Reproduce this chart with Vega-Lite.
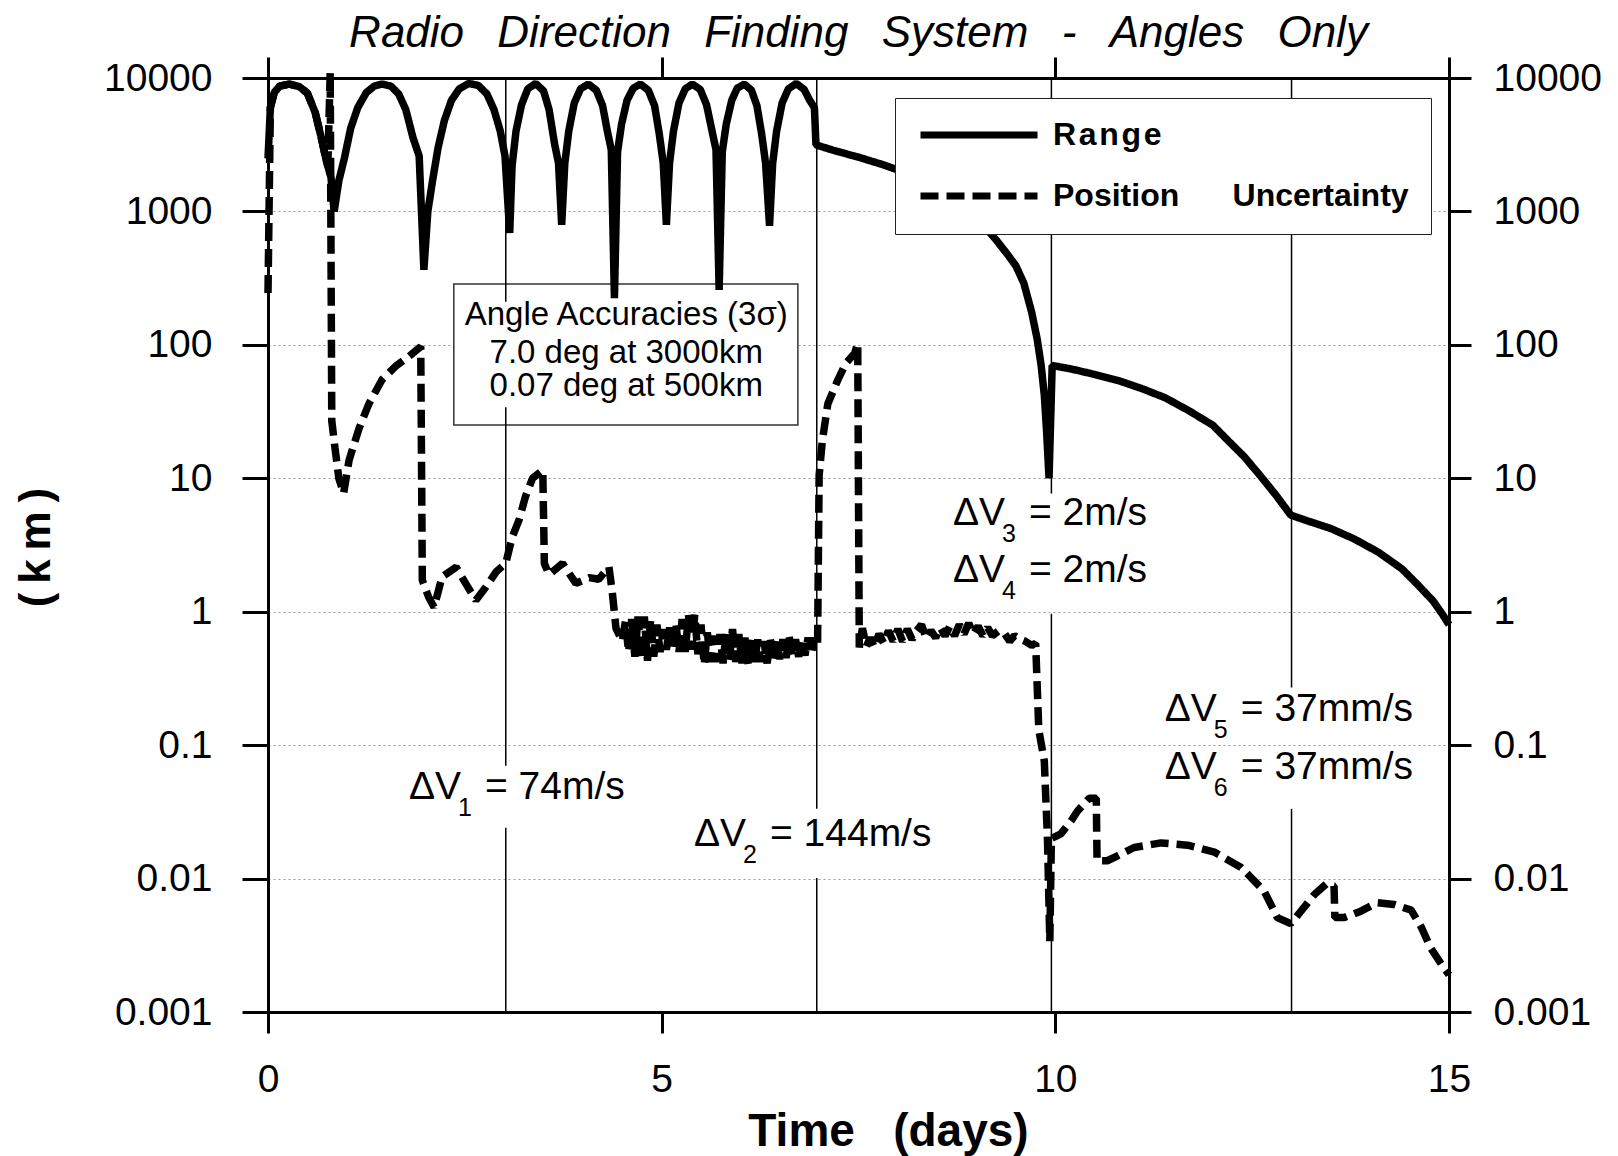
{
  "$schema": "https://vega.github.io/schema/vega-lite/v6.json",
  "autosize": {"type": "none"},
  "padding": {"left": 268, "top": 78, "right": 169, "bottom": 144},
  "width": 1181,
  "height": 934,
  "background": "white",
  "config": {
    "font": "Liberation Sans",
    "view": {"stroke": null}
  },
  "title": {
    "text": "Radio\u00a0\u00a0\u2009Direction\u00a0\u00a0\u2009Finding\u00a0\u00a0\u2009System\u00a0\u00a0\u2009-\u00a0\u00a0\u2009Angles\u00a0\u00a0\u2009Only",
    "font": "Liberation Sans",
    "fontSize": 44,
    "fontStyle": "italic",
    "fontWeight": "normal",
    "color": "black",
    "anchor": "middle",
    "frame": "group",
    "baseline": "alphabetic",
    "offset": 10,
    "dy": 45
  },
  "datasets": {
    "box": [{"t1": 2.36, "t2": 6.73, "v1": 25.1, "v2": 286}],
    "rules": [
      {"t": 3.02, "v1": 0.001, "v2": 0.024},
      {"t": 3.02, "v1": 0.07, "v2": 34},
      {"t": 3.02, "v1": 210, "v2": 10000},
      {"t": 6.97, "v1": 0.001, "v2": 0.0101},
      {"t": 6.97, "v1": 0.0333, "v2": 10000},
      {"t": 9.95, "v1": 0.001, "v2": 0.966},
      {"t": 9.95, "v1": 7.7, "v2": 10000},
      {"t": 13.0, "v1": 0.001, "v2": 0.0333},
      {"t": 13.0, "v1": 0.27, "v2": 10000}
    ],
    "curves": [
      {"series": "Range", "t": 0.00, "v": 2500},
      {"series": "Range", "t": 0.03, "v": 6000},
      {"series": "Range", "t": 0.08, "v": 7800},
      {"series": "Range", "t": 0.15, "v": 8700},
      {"series": "Range", "t": 0.27, "v": 9000},
      {"series": "Range", "t": 0.40, "v": 8600},
      {"series": "Range", "t": 0.50, "v": 7700},
      {"series": "Range", "t": 0.60, "v": 5500},
      {"series": "Range", "t": 0.68, "v": 3500},
      {"series": "Range", "t": 0.74, "v": 2400},
      {"series": "Range", "t": 0.80, "v": 1800},
      {"series": "Range", "t": 0.84, "v": 1000},
      {"series": "Range", "t": 0.90, "v": 1700},
      {"series": "Range", "t": 0.97, "v": 2500},
      {"series": "Range", "t": 1.05, "v": 4200},
      {"series": "Range", "t": 1.14, "v": 6000},
      {"series": "Range", "t": 1.25, "v": 7800},
      {"series": "Range", "t": 1.35, "v": 8700},
      {"series": "Range", "t": 1.45, "v": 9000},
      {"series": "Range", "t": 1.56, "v": 8700},
      {"series": "Range", "t": 1.66, "v": 7600},
      {"series": "Range", "t": 1.75, "v": 5800},
      {"series": "Range", "t": 1.84, "v": 3600},
      {"series": "Range", "t": 1.92, "v": 2600},
      {"series": "Range", "t": 1.98, "v": 365},
      {"series": "Range", "t": 2.03, "v": 1000},
      {"series": "Range", "t": 2.09, "v": 1700},
      {"series": "Range", "t": 2.16, "v": 3000},
      {"series": "Range", "t": 2.24, "v": 4800},
      {"series": "Range", "t": 2.33, "v": 6800},
      {"series": "Range", "t": 2.43, "v": 8300},
      {"series": "Range", "t": 2.55, "v": 9100},
      {"series": "Range", "t": 2.67, "v": 8800},
      {"series": "Range", "t": 2.78, "v": 7600},
      {"series": "Range", "t": 2.87, "v": 5800},
      {"series": "Range", "t": 2.95, "v": 4000},
      {"series": "Range", "t": 3.01, "v": 2600},
      {"series": "Range", "t": 3.07, "v": 690},
      {"series": "Range", "t": 3.10, "v": 2200},
      {"series": "Range", "t": 3.15, "v": 4000},
      {"series": "Range", "t": 3.22, "v": 6300},
      {"series": "Range", "t": 3.30, "v": 8300},
      {"series": "Range", "t": 3.40, "v": 9100},
      {"series": "Range", "t": 3.50, "v": 8000},
      {"series": "Range", "t": 3.57, "v": 5800},
      {"series": "Range", "t": 3.64, "v": 3200},
      {"series": "Range", "t": 3.69, "v": 2300},
      {"series": "Range", "t": 3.73, "v": 795},
      {"series": "Range", "t": 3.77, "v": 2300},
      {"series": "Range", "t": 3.82, "v": 4000},
      {"series": "Range", "t": 3.89, "v": 6500},
      {"series": "Range", "t": 3.97, "v": 8300},
      {"series": "Range", "t": 4.07, "v": 9000},
      {"series": "Range", "t": 4.17, "v": 8100},
      {"series": "Range", "t": 4.25, "v": 6200},
      {"series": "Range", "t": 4.31, "v": 4000},
      {"series": "Range", "t": 4.36, "v": 2900},
      {"series": "Range", "t": 4.40, "v": 224},
      {"series": "Range", "t": 4.44, "v": 2800},
      {"series": "Range", "t": 4.49, "v": 4500},
      {"series": "Range", "t": 4.56, "v": 6800},
      {"series": "Range", "t": 4.64, "v": 8400},
      {"series": "Range", "t": 4.73, "v": 9000},
      {"series": "Range", "t": 4.83, "v": 8100},
      {"series": "Range", "t": 4.91, "v": 6200},
      {"series": "Range", "t": 4.97, "v": 3800},
      {"series": "Range", "t": 5.02, "v": 2300},
      {"series": "Range", "t": 5.06, "v": 795},
      {"series": "Range", "t": 5.10, "v": 2300},
      {"series": "Range", "t": 5.15, "v": 4000},
      {"series": "Range", "t": 5.22, "v": 6500},
      {"series": "Range", "t": 5.30, "v": 8300},
      {"series": "Range", "t": 5.39, "v": 9000},
      {"series": "Range", "t": 5.49, "v": 8200},
      {"series": "Range", "t": 5.57, "v": 6300},
      {"series": "Range", "t": 5.64, "v": 4000},
      {"series": "Range", "t": 5.69, "v": 2900},
      {"series": "Range", "t": 5.73, "v": 258},
      {"series": "Range", "t": 5.77, "v": 2800},
      {"series": "Range", "t": 5.82, "v": 4500},
      {"series": "Range", "t": 5.89, "v": 6800},
      {"series": "Range", "t": 5.96, "v": 8400},
      {"series": "Range", "t": 6.05, "v": 9000},
      {"series": "Range", "t": 6.14, "v": 8100},
      {"series": "Range", "t": 6.21, "v": 6200},
      {"series": "Range", "t": 6.27, "v": 3800},
      {"series": "Range", "t": 6.32, "v": 2300},
      {"series": "Range", "t": 6.37, "v": 780},
      {"series": "Range", "t": 6.41, "v": 2300},
      {"series": "Range", "t": 6.46, "v": 4000},
      {"series": "Range", "t": 6.53, "v": 6500},
      {"series": "Range", "t": 6.61, "v": 8300},
      {"series": "Range", "t": 6.71, "v": 9100},
      {"series": "Range", "t": 6.81, "v": 8200},
      {"series": "Range", "t": 6.88, "v": 6800},
      {"series": "Range", "t": 6.94, "v": 6000},
      {"series": "Range", "t": 6.96, "v": 3150},
      {"series": "Range", "t": 7.20, "v": 2850},
      {"series": "Range", "t": 7.50, "v": 2550},
      {"series": "Range", "t": 7.80, "v": 2250},
      {"series": "Range", "t": 8.10, "v": 1950},
      {"series": "Range", "t": 8.40, "v": 1650},
      {"series": "Range", "t": 8.70, "v": 1300},
      {"series": "Range", "t": 8.90, "v": 1050},
      {"series": "Range", "t": 9.10, "v": 770},
      {"series": "Range", "t": 9.25, "v": 610},
      {"series": "Range", "t": 9.40, "v": 470},
      {"series": "Range", "t": 9.50, "v": 390},
      {"series": "Range", "t": 9.60, "v": 290},
      {"series": "Range", "t": 9.70, "v": 175},
      {"series": "Range", "t": 9.77, "v": 110},
      {"series": "Range", "t": 9.82, "v": 70},
      {"series": "Range", "t": 9.86, "v": 42},
      {"series": "Range", "t": 9.89, "v": 22},
      {"series": "Range", "t": 9.92, "v": 10},
      {"series": "Range", "t": 9.96, "v": 70},
      {"series": "Range", "t": 10.20, "v": 66},
      {"series": "Range", "t": 10.50, "v": 60},
      {"series": "Range", "t": 10.80, "v": 54},
      {"series": "Range", "t": 11.10, "v": 47},
      {"series": "Range", "t": 11.40, "v": 40},
      {"series": "Range", "t": 11.70, "v": 32},
      {"series": "Range", "t": 12.00, "v": 25},
      {"series": "Range", "t": 12.20, "v": 19},
      {"series": "Range", "t": 12.40, "v": 14.5},
      {"series": "Range", "t": 12.60, "v": 10.5},
      {"series": "Range", "t": 12.80, "v": 7.5},
      {"series": "Range", "t": 12.99, "v": 5.3},
      {"series": "Range", "t": 13.20, "v": 4.8},
      {"series": "Range", "t": 13.50, "v": 4.2},
      {"series": "Range", "t": 13.80, "v": 3.5},
      {"series": "Range", "t": 14.10, "v": 2.8},
      {"series": "Range", "t": 14.40, "v": 2.1},
      {"series": "Range", "t": 14.60, "v": 1.6},
      {"series": "Range", "t": 14.80, "v": 1.2},
      {"series": "Range", "t": 14.92, "v": 0.95},
      {"series": "Range", "t": 15.00, "v": 0.8},

      {"series": "Position Uncertainty", "t": 0.00, "v": 245},
      {"series": "Position Uncertainty", "t": 0.03, "v": 6000},
      {"series": "Position Uncertainty", "t": 0.08, "v": 7800},
      {"series": "Position Uncertainty", "t": 0.15, "v": 8700},
      {"series": "Position Uncertainty", "t": 0.27, "v": 9000},
      {"series": "Position Uncertainty", "t": 0.40, "v": 8600},
      {"series": "Position Uncertainty", "t": 0.50, "v": 7700},
      {"series": "Position Uncertainty", "t": 0.60, "v": 5500},
      {"series": "Position Uncertainty", "t": 0.68, "v": 3500},
      {"series": "Position Uncertainty", "t": 0.74, "v": 2400},
      {"series": "Position Uncertainty", "t": 0.76, "v": 2200},
      {"series": "Position Uncertainty", "t": 0.79, "v": 11000},
      {"series": "Position Uncertainty", "t": 0.81, "v": 27},
      {"series": "Position Uncertainty", "t": 0.85, "v": 17},
      {"series": "Position Uncertainty", "t": 0.90, "v": 10},
      {"series": "Position Uncertainty", "t": 0.96, "v": 7.7},
      {"series": "Position Uncertainty", "t": 1.03, "v": 13.7},
      {"series": "Position Uncertainty", "t": 1.16, "v": 24},
      {"series": "Position Uncertainty", "t": 1.28, "v": 36},
      {"series": "Position Uncertainty", "t": 1.45, "v": 55},
      {"series": "Position Uncertainty", "t": 1.62, "v": 69},
      {"series": "Position Uncertainty", "t": 1.79, "v": 82},
      {"series": "Position Uncertainty", "t": 1.94, "v": 97},
      {"series": "Position Uncertainty", "t": 1.96, "v": 1.72},
      {"series": "Position Uncertainty", "t": 2.04, "v": 1.29},
      {"series": "Position Uncertainty", "t": 2.11, "v": 1.08},
      {"series": "Position Uncertainty", "t": 2.21, "v": 1.82},
      {"series": "Position Uncertainty", "t": 2.39, "v": 2.16},
      {"series": "Position Uncertainty", "t": 2.51, "v": 1.63},
      {"series": "Position Uncertainty", "t": 2.64, "v": 1.22},
      {"series": "Position Uncertainty", "t": 2.77, "v": 1.54},
      {"series": "Position Uncertainty", "t": 2.90, "v": 2.0},
      {"series": "Position Uncertainty", "t": 3.02, "v": 2.3},
      {"series": "Position Uncertainty", "t": 3.10, "v": 3.6},
      {"series": "Position Uncertainty", "t": 3.19, "v": 4.9},
      {"series": "Position Uncertainty", "t": 3.27, "v": 7.3},
      {"series": "Position Uncertainty", "t": 3.36, "v": 10},
      {"series": "Position Uncertainty", "t": 3.49, "v": 11.5},
      {"series": "Position Uncertainty", "t": 3.51, "v": 2.3},
      {"series": "Position Uncertainty", "t": 3.57, "v": 1.9},
      {"series": "Position Uncertainty", "t": 3.74, "v": 2.3},
      {"series": "Position Uncertainty", "t": 3.91, "v": 1.63},
      {"series": "Position Uncertainty", "t": 4.08, "v": 1.8},
      {"series": "Position Uncertainty", "t": 4.20, "v": 1.75},
      {"series": "Position Uncertainty", "t": 4.33, "v": 2.16},
      {"series": "Position Uncertainty", "t": 4.37, "v": 1.45},
      {"series": "Position Uncertainty", "t": 4.42, "v": 0.75},
      {"series": "Position Uncertainty", "t": 4.50, "v": 0.60},
      {"series": "Position Uncertainty", "t": 4.54, "v": 0.85},
      {"series": "Position Uncertainty", "t": 4.58, "v": 0.50},
      {"series": "Position Uncertainty", "t": 4.62, "v": 0.88},
      {"series": "Position Uncertainty", "t": 4.66, "v": 0.46},
      {"series": "Position Uncertainty", "t": 4.70, "v": 0.92},
      {"series": "Position Uncertainty", "t": 4.74, "v": 0.44},
      {"series": "Position Uncertainty", "t": 4.78, "v": 0.92},
      {"series": "Position Uncertainty", "t": 4.82, "v": 0.43},
      {"series": "Position Uncertainty", "t": 4.86, "v": 0.88},
      {"series": "Position Uncertainty", "t": 4.90, "v": 0.46},
      {"series": "Position Uncertainty", "t": 4.94, "v": 0.80},
      {"series": "Position Uncertainty", "t": 4.98, "v": 0.50},
      {"series": "Position Uncertainty", "t": 5.02, "v": 0.74},
      {"series": "Position Uncertainty", "t": 5.06, "v": 0.52},
      {"series": "Position Uncertainty", "t": 5.10, "v": 0.76},
      {"series": "Position Uncertainty", "t": 5.14, "v": 0.52},
      {"series": "Position Uncertainty", "t": 5.18, "v": 0.82},
      {"series": "Position Uncertainty", "t": 5.22, "v": 0.50},
      {"series": "Position Uncertainty", "t": 5.26, "v": 0.88},
      {"series": "Position Uncertainty", "t": 5.30, "v": 0.50},
      {"series": "Position Uncertainty", "t": 5.34, "v": 0.95},
      {"series": "Position Uncertainty", "t": 5.38, "v": 0.52},
      {"series": "Position Uncertainty", "t": 5.42, "v": 0.95},
      {"series": "Position Uncertainty", "t": 5.46, "v": 0.48},
      {"series": "Position Uncertainty", "t": 5.50, "v": 0.80},
      {"series": "Position Uncertainty", "t": 5.54, "v": 0.40},
      {"series": "Position Uncertainty", "t": 5.58, "v": 0.70},
      {"series": "Position Uncertainty", "t": 5.62, "v": 0.42},
      {"series": "Position Uncertainty", "t": 5.66, "v": 0.66},
      {"series": "Position Uncertainty", "t": 5.70, "v": 0.42},
      {"series": "Position Uncertainty", "t": 5.74, "v": 0.68},
      {"series": "Position Uncertainty", "t": 5.78, "v": 0.41},
      {"series": "Position Uncertainty", "t": 5.82, "v": 0.72},
      {"series": "Position Uncertainty", "t": 5.86, "v": 0.43},
      {"series": "Position Uncertainty", "t": 5.90, "v": 0.74},
      {"series": "Position Uncertainty", "t": 5.94, "v": 0.42},
      {"series": "Position Uncertainty", "t": 5.98, "v": 0.68},
      {"series": "Position Uncertainty", "t": 6.02, "v": 0.41},
      {"series": "Position Uncertainty", "t": 6.06, "v": 0.64},
      {"series": "Position Uncertainty", "t": 6.10, "v": 0.40},
      {"series": "Position Uncertainty", "t": 6.14, "v": 0.63},
      {"series": "Position Uncertainty", "t": 6.18, "v": 0.42},
      {"series": "Position Uncertainty", "t": 6.22, "v": 0.62},
      {"series": "Position Uncertainty", "t": 6.26, "v": 0.42},
      {"series": "Position Uncertainty", "t": 6.30, "v": 0.60},
      {"series": "Position Uncertainty", "t": 6.34, "v": 0.41},
      {"series": "Position Uncertainty", "t": 6.38, "v": 0.62},
      {"series": "Position Uncertainty", "t": 6.42, "v": 0.42},
      {"series": "Position Uncertainty", "t": 6.46, "v": 0.64},
      {"series": "Position Uncertainty", "t": 6.50, "v": 0.44},
      {"series": "Position Uncertainty", "t": 6.54, "v": 0.62},
      {"series": "Position Uncertainty", "t": 6.58, "v": 0.45},
      {"series": "Position Uncertainty", "t": 6.62, "v": 0.65},
      {"series": "Position Uncertainty", "t": 6.66, "v": 0.46},
      {"series": "Position Uncertainty", "t": 6.70, "v": 0.62},
      {"series": "Position Uncertainty", "t": 6.74, "v": 0.46},
      {"series": "Position Uncertainty", "t": 6.78, "v": 0.63},
      {"series": "Position Uncertainty", "t": 6.82, "v": 0.47},
      {"series": "Position Uncertainty", "t": 6.86, "v": 0.64},
      {"series": "Position Uncertainty", "t": 6.90, "v": 0.48},
      {"series": "Position Uncertainty", "t": 6.94, "v": 0.64},
      {"series": "Position Uncertainty", "t": 6.98, "v": 0.55},
      {"series": "Position Uncertainty", "t": 7.00, "v": 10.5},
      {"series": "Position Uncertainty", "t": 7.04, "v": 19},
      {"series": "Position Uncertainty", "t": 7.11, "v": 36},
      {"series": "Position Uncertainty", "t": 7.24, "v": 55},
      {"series": "Position Uncertainty", "t": 7.34, "v": 73},
      {"series": "Position Uncertainty", "t": 7.45, "v": 86},
      {"series": "Position Uncertainty", "t": 7.49, "v": 103},
      {"series": "Position Uncertainty", "t": 7.51, "v": 0.54},
      {"series": "Position Uncertainty", "t": 7.55, "v": 0.75},
      {"series": "Position Uncertainty", "t": 7.60, "v": 0.55},
      {"series": "Position Uncertainty", "t": 7.65, "v": 0.64},
      {"series": "Position Uncertainty", "t": 7.70, "v": 0.54},
      {"series": "Position Uncertainty", "t": 7.76, "v": 0.68},
      {"series": "Position Uncertainty", "t": 7.82, "v": 0.58},
      {"series": "Position Uncertainty", "t": 7.88, "v": 0.72},
      {"series": "Position Uncertainty", "t": 7.94, "v": 0.60},
      {"series": "Position Uncertainty", "t": 8.00, "v": 0.74},
      {"series": "Position Uncertainty", "t": 8.06, "v": 0.60},
      {"series": "Position Uncertainty", "t": 8.12, "v": 0.74},
      {"series": "Position Uncertainty", "t": 8.18, "v": 0.62},
      {"series": "Position Uncertainty", "t": 8.24, "v": 0.72},
      {"series": "Position Uncertainty", "t": 8.30, "v": 0.80},
      {"series": "Position Uncertainty", "t": 8.36, "v": 0.63},
      {"series": "Position Uncertainty", "t": 8.42, "v": 0.72},
      {"series": "Position Uncertainty", "t": 8.48, "v": 0.64},
      {"series": "Position Uncertainty", "t": 8.54, "v": 0.76},
      {"series": "Position Uncertainty", "t": 8.60, "v": 0.66},
      {"series": "Position Uncertainty", "t": 8.66, "v": 0.78},
      {"series": "Position Uncertainty", "t": 8.72, "v": 0.66},
      {"series": "Position Uncertainty", "t": 8.78, "v": 0.80},
      {"series": "Position Uncertainty", "t": 8.84, "v": 0.68},
      {"series": "Position Uncertainty", "t": 8.90, "v": 0.82},
      {"series": "Position Uncertainty", "t": 8.96, "v": 0.68},
      {"series": "Position Uncertainty", "t": 9.02, "v": 0.78},
      {"series": "Position Uncertainty", "t": 9.08, "v": 0.66},
      {"series": "Position Uncertainty", "t": 9.14, "v": 0.76},
      {"series": "Position Uncertainty", "t": 9.20, "v": 0.66},
      {"series": "Position Uncertainty", "t": 9.28, "v": 0.72},
      {"series": "Position Uncertainty", "t": 9.36, "v": 0.68},
      {"series": "Position Uncertainty", "t": 9.42, "v": 0.60},
      {"series": "Position Uncertainty", "t": 9.48, "v": 0.66},
      {"series": "Position Uncertainty", "t": 9.56, "v": 0.62},
      {"series": "Position Uncertainty", "t": 9.62, "v": 0.60},
      {"series": "Position Uncertainty", "t": 9.70, "v": 0.56},
      {"series": "Position Uncertainty", "t": 9.75, "v": 0.58},
      {"series": "Position Uncertainty", "t": 9.79, "v": 0.13},
      {"series": "Position Uncertainty", "t": 9.86, "v": 0.076},
      {"series": "Position Uncertainty", "t": 9.90, "v": 0.02},
      {"series": "Position Uncertainty", "t": 9.93, "v": 0.0034},
      {"series": "Position Uncertainty", "t": 9.95, "v": 0.02},
      {"series": "Position Uncertainty", "t": 10.07, "v": 0.0216},
      {"series": "Position Uncertainty", "t": 10.20, "v": 0.027},
      {"series": "Position Uncertainty", "t": 10.28, "v": 0.032},
      {"series": "Position Uncertainty", "t": 10.43, "v": 0.04},
      {"series": "Position Uncertainty", "t": 10.52, "v": 0.04},
      {"series": "Position Uncertainty", "t": 10.53, "v": 0.0136},
      {"series": "Position Uncertainty", "t": 10.66, "v": 0.0136},
      {"series": "Position Uncertainty", "t": 10.79, "v": 0.0148},
      {"series": "Position Uncertainty", "t": 11.00, "v": 0.0171},
      {"series": "Position Uncertainty", "t": 11.34, "v": 0.0185},
      {"series": "Position Uncertainty", "t": 11.68, "v": 0.0178},
      {"series": "Position Uncertainty", "t": 12.02, "v": 0.0158},
      {"series": "Position Uncertainty", "t": 12.36, "v": 0.0121},
      {"series": "Position Uncertainty", "t": 12.65, "v": 0.0081},
      {"series": "Position Uncertainty", "t": 12.82, "v": 0.0051},
      {"series": "Position Uncertainty", "t": 12.99, "v": 0.0046},
      {"series": "Position Uncertainty", "t": 13.12, "v": 0.0057},
      {"series": "Position Uncertainty", "t": 13.29, "v": 0.0076},
      {"series": "Position Uncertainty", "t": 13.44, "v": 0.0091},
      {"series": "Position Uncertainty", "t": 13.54, "v": 0.0088},
      {"series": "Position Uncertainty", "t": 13.55, "v": 0.0051},
      {"series": "Position Uncertainty", "t": 13.67, "v": 0.0051},
      {"series": "Position Uncertainty", "t": 13.88, "v": 0.0057},
      {"series": "Position Uncertainty", "t": 14.09, "v": 0.0066},
      {"series": "Position Uncertainty", "t": 14.30, "v": 0.0064},
      {"series": "Position Uncertainty", "t": 14.52, "v": 0.0058},
      {"series": "Position Uncertainty", "t": 14.65, "v": 0.0043},
      {"series": "Position Uncertainty", "t": 14.77, "v": 0.003},
      {"series": "Position Uncertainty", "t": 14.90, "v": 0.0023},
      {"series": "Position Uncertainty", "t": 15.00, "v": 0.0019}
    ],
    "dv": [
      {"t": 1.79, "v": 0.0396, "lead": "ΔV", "sub": "1", "rest": "= 74m/s"},
      {"t": 5.41, "v": 0.0176, "lead": "ΔV", "sub": "2", "rest": "= 144m/s"},
      {"t": 8.70, "v": 4.45, "lead": "ΔV", "sub": "3", "rest": "= 2m/s"},
      {"t": 8.70, "v": 1.667, "lead": "ΔV", "sub": "4", "rest": "= 2m/s"},
      {"t": 11.39, "v": 0.1528, "lead": "ΔV", "sub": "5", "rest": "= 37mm/s"},
      {"t": 11.39, "v": 0.0561, "lead": "ΔV", "sub": "6", "rest": "= 37mm/s"}
    ],
    "boxtext": [
      {"t": 4.55, "v": 141, "line": "Angle Accuracies (3σ)"},
      {"t": 4.55, "v": 73.1, "line": "7.0 deg at 3000km"},
      {"t": 4.55, "v": 41.3, "line": "0.07 deg at 500km"}
    ]
  },
  "resolve": {"axis": {"x": "independent", "y": "independent"}},
  "layer": [
    {
      "data": {"name": "box"},
      "mark": {"type": "rect", "fill": "white", "stroke": "#333", "strokeWidth": 1.5},
      "encoding": {
        "x": {"field": "t1", "type": "quantitative",
              "scale": {"domain": [0, 15], "nice": false, "zero": false},
              "axis": {"orient": "bottom", "values": [0, 5, 10, 15], "grid": false, "labelFlush": false,
                       "domainColor": "black", "domainWidth": 3, "tickColor": "black", "tickWidth": 3, "tickSize": 21,
                       "labelFontSize": 39, "labelColor": "black", "labelPadding": 58, "labelBaseline": "alphabetic",
                       "title": "Time\u00a0\u00a0\u00a0(days)", "titleFontSize": 46, "titleFontWeight": "bold", "titleColor": "black",
                       "titleX": 620, "titleY": 133, "titleBaseline": "alphabetic", "titleAlign": "center"}},
        "x2": {"field": "t2"},
        "y": {"field": "v1", "type": "quantitative",
              "scale": {"type": "log", "domain": [0.001, 10000], "nice": false},
              "axis": {"orient": "left", "values": [0.001, 0.01, 0.1, 1, 10, 100, 1000, 10000], "format": "~g",
                       "grid": true, "gridColor": "#9a9a9a", "gridDash": [2, 3], "gridWidth": 1, "labelFlush": false,
                       "domainColor": "black", "domainWidth": 3, "tickColor": "black", "tickWidth": 3, "tickSize": 26,
                       "labelFontSize": 39, "labelColor": "black", "labelPadding": 30,
                       "title": "(\u2009k\u2009m\u2009)", "titleFontSize": 44, "titleFontWeight": "bold", "titleColor": "black",
                       "titleX": -232, "titleY": 469, "titleAngle": -90, "titleAlign": "center", "titleBaseline": "middle"}},
        "y2": {"field": "v2"}
      }
    },
    {
      "data": {"name": "rules"},
      "mark": {"type": "rule", "color": "black", "strokeWidth": 1.5},
      "encoding": {
        "x": {"field": "t", "type": "quantitative",
              "scale": {"domain": [0, 15], "nice": false, "zero": false},
              "axis": {"orient": "top", "values": [0, 5, 10, 15], "grid": false, "labels": false, "title": null,
                       "domainColor": "black", "domainWidth": 3, "tickColor": "black", "tickWidth": 3, "tickSize": 21}},
        "y": {"field": "v1", "type": "quantitative",
              "scale": {"type": "log", "domain": [0.001, 10000], "nice": false},
              "axis": {"orient": "right", "values": [0.001, 0.01, 0.1, 1, 10, 100, 1000, 10000], "format": "~g",
                       "grid": false, "title": null, "labelFlush": false,
                       "domainColor": "black", "domainWidth": 3, "tickColor": "black", "tickWidth": 3, "tickSize": 22,
                       "labelFontSize": 39, "labelColor": "black", "labelPadding": 22}},
        "y2": {"field": "v2"}
      }
    },
    {
      "data": {"name": "curves"},
      "mark": {"type": "line", "color": "black", "strokeWidth": 7.5, "strokeCap": "butt", "strokeJoin": "bevel"},
      "encoding": {
        "x": {"field": "t", "type": "quantitative", "scale": {"domain": [0, 15], "nice": false, "zero": false}, "axis": null},
        "y": {"field": "v", "type": "quantitative", "scale": {"type": "log", "domain": [0.001, 10000], "nice": false}, "axis": null},
        "strokeDash": {
          "field": "series", "type": "nominal",
          "scale": {"domain": ["Range", "Position Uncertainty"], "range": [[1, 0], [18, 8]]},
          "legend": {
            "orient": "none", "legendX": 627, "legendY": 20, "title": null,
            "fillColor": "white", "strokeColor": "#222", "padding": 22,
            "symbolType": "stroke", "symbolSize": 13689, "symbolStrokeWidth": 7, "symbolStrokeColor": "black",
            "clipHeight": 30, "rowPadding": 29,
            "labelFontSize": 32, "labelFontWeight": "bold", "labelColor": "black", "labelOffset": 12, "labelLimit": 800,
            "labelExpr": "datum.label == 'Range' ? 'R\u200aa\u200an\u200ag\u200ae' : 'Position\u00a0\u00a0\u00a0\u00a0\u00a0\u00a0Uncertainty'",
            "zindex": 1
          }
        }
      }
    },
    {
      "data": {"name": "dv"},
      "mark": {"type": "text", "align": "left", "baseline": "alphabetic", "fontSize": 39, "color": "black"},
      "encoding": {
        "x": {"field": "t", "type": "quantitative", "scale": {"domain": [0, 15], "nice": false, "zero": false}, "axis": null},
        "y": {"field": "v", "type": "quantitative", "scale": {"type": "log", "domain": [0.001, 10000], "nice": false}, "axis": null},
        "text": {"field": "lead"}
      }
    },
    {
      "data": {"name": "dv"},
      "mark": {"type": "text", "align": "left", "baseline": "alphabetic", "fontSize": 25, "dx": 49, "dy": 17, "color": "black"},
      "encoding": {
        "x": {"field": "t", "type": "quantitative", "scale": {"domain": [0, 15], "nice": false, "zero": false}, "axis": null},
        "y": {"field": "v", "type": "quantitative", "scale": {"type": "log", "domain": [0.001, 10000], "nice": false}, "axis": null},
        "text": {"field": "sub"}
      }
    },
    {
      "data": {"name": "dv"},
      "mark": {"type": "text", "align": "left", "baseline": "alphabetic", "fontSize": 39, "dx": 76, "color": "black"},
      "encoding": {
        "x": {"field": "t", "type": "quantitative", "scale": {"domain": [0, 15], "nice": false, "zero": false}, "axis": null},
        "y": {"field": "v", "type": "quantitative", "scale": {"type": "log", "domain": [0.001, 10000], "nice": false}, "axis": null},
        "text": {"field": "rest"}
      }
    },
    {
      "data": {"name": "boxtext"},
      "mark": {"type": "text", "align": "center", "baseline": "alphabetic", "fontSize": 33, "color": "black"},
      "encoding": {
        "x": {"field": "t", "type": "quantitative", "scale": {"domain": [0, 15], "nice": false, "zero": false}, "axis": null},
        "y": {"field": "v", "type": "quantitative", "scale": {"type": "log", "domain": [0.001, 10000], "nice": false}, "axis": null},
        "text": {"field": "line"}
      }
    }
  ]
}
